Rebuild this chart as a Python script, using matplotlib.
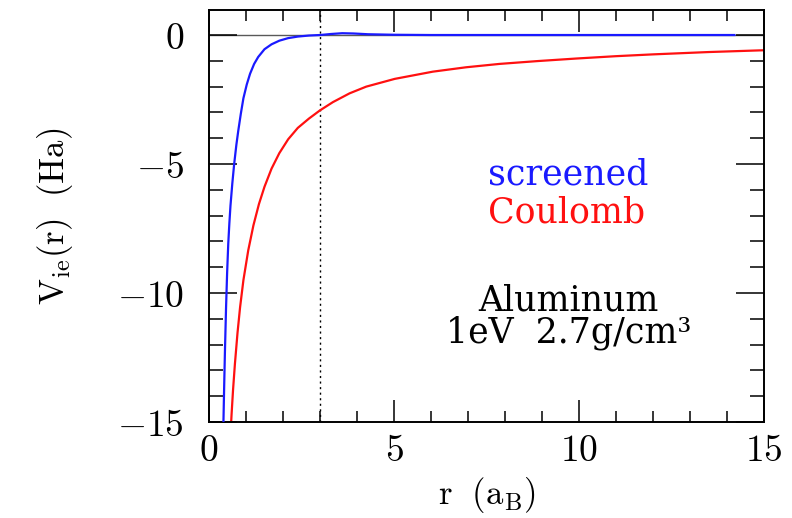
import numpy as np
import matplotlib
matplotlib.use("Agg")
import matplotlib.pyplot as plt
from matplotlib.ticker import MultipleLocator, FuncFormatter

plt.rcParams['mathtext.fontset'] = 'cm'

# screened ion-electron potential (Ha) vs r (Bohr)
r_scr = [0.37, 0.39, 0.41, 0.43, 0.46, 0.49, 0.52, 0.55, 0.58, 0.63, 0.68,
         0.74, 0.79, 0.86, 0.93, 1.02, 1.11, 1.22, 1.33, 1.50, 1.69, 1.90,
         2.14, 2.40, 2.70, 3.0, 3.3, 3.6, 3.9, 4.3, 5.0, 6.0, 8.0, 10.0,
         12.0, 14.2]
v_scr = [-16.5, -15.0, -13.6, -12.3, -10.6, -9.2, -8.1, -7.3, -6.62, -5.75,
         -5.0, -4.25, -3.72, -3.05, -2.45, -1.92, -1.50, -1.12, -0.85, -0.55,
         -0.36, -0.22, -0.12, -0.06, -0.02, 0.0, 0.04, 0.07, 0.06, 0.03,
         0.01, 0.0, 0.0, 0.0, 0.0, 0.0]

# bare Coulomb potential
r_coul = [0.59, 0.61, 0.65, 0.70, 0.77, 0.84, 0.93, 1.06, 1.20, 1.35, 1.50,
          1.69, 1.90, 2.14, 2.40, 2.70, 3.0, 3.35, 3.80, 4.25, 5.02, 6.05,
          6.95, 7.85, 8.88, 9.94, 11.0, 12.0, 13.5, 15.0]
v_coul = [-15.25, -14.70, -13.75, -12.75, -11.55, -10.55, -9.50, -8.35,
          -7.38, -6.55, -5.88, -5.18, -4.58, -4.04, -3.60, -3.24, -2.92,
          -2.60, -2.26, -2.00, -1.70, -1.42, -1.25, -1.12, -1.01, -0.91,
          -0.82, -0.75, -0.66, -0.59]

r_cut = 3.0
xticks = [0, 5, 10, 15]
yticks = [0, -5, -10, -15]

fig = plt.figure(figsize=(7.92, 5.18), dpi=100)
ax = fig.add_axes([0.2639, 0.1853, 0.7007, 0.7954])

ax.axhline(0, color='0.35', lw=1.0, zorder=1)
ax.axvline(r_cut, color='k', ls=(0, (1.5, 2.5)), lw=1.0, zorder=1)
ax.plot(r_coul, v_coul, color='#ff1010', lw=1.6, zorder=2)
ax.plot(r_scr, v_scr, color='#1a1aff', lw=1.6, zorder=3)

ax.set_xlim(0, 15)
ax.set_ylim(-15, 0.97)
ax.set_xticks(xticks)
ax.set_yticks(yticks)
ax.xaxis.set_minor_locator(MultipleLocator(1))
ax.yaxis.set_minor_locator(MultipleLocator(1))
fmt = FuncFormatter(lambda v, p: r"$%d$" % v)
ax.xaxis.set_major_formatter(fmt)
ax.yaxis.set_major_formatter(fmt)

ax.tick_params(axis='both', which='both', direction='in', top=True, right=True,
               width=1.1, labelsize=27)
ax.tick_params(axis='x', which='major', length=16, pad=8)
ax.tick_params(axis='x', which='minor', length=8)
ax.tick_params(axis='y', which='major', length=20, pad=18)
ax.tick_params(axis='y', which='minor', length=10)
for s in ax.spines.values():
    s.set_linewidth(1.4)

ax.set_xlabel(r"$\mathrm{r\ \ (a_B)}$", fontsize=25, labelpad=4)
ax.set_ylabel(r"$\mathrm{V_{ie}(r)\ \ (Ha)}$", fontsize=25, labelpad=30)

ax.text(7.55, -5.81, "screened", color='#1a1aff', fontsize=25,
        family='DejaVu Serif', ha='left', va='baseline')
ax.text(7.55, -7.25, "Coulomb", color='#ff1010', fontsize=25,
        family='DejaVu Serif', ha='left', va='baseline')
ax.text(9.71, -10.66, "Aluminum", color='k', fontsize=25,
        family='DejaVu Serif', ha='center', va='baseline')
ax.text(9.71, -11.9, "1eV  2.7g/cm\u00b3", color='k', fontsize=25,
        family='DejaVu Serif', ha='center', va='baseline')

fig.savefig("out.png", dpi=100)
